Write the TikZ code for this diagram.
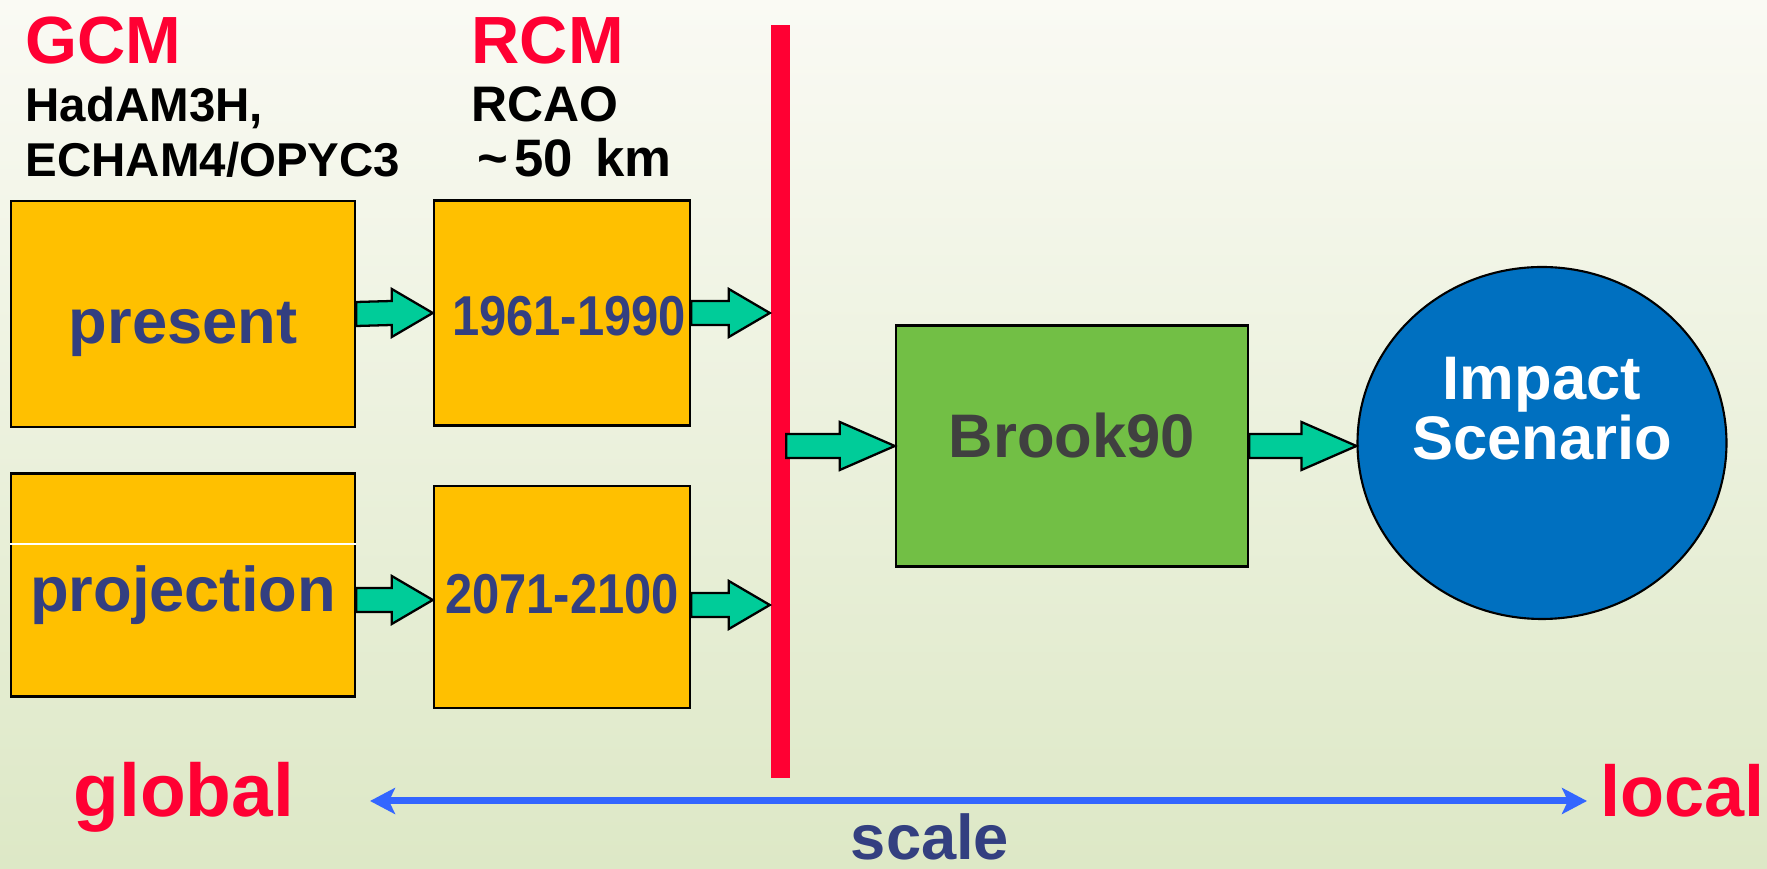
\documentclass[tikz,border=0pt]{standalone}
\usepackage{fontspec}
\setmainfont{Liberation Sans}
\newfontfamily\condensed{Liberation Sans}[FakeStretch=0.87]
\usetikzlibrary{shapes.geometric,arrows.meta,calc}

\definecolor{bgtop}{RGB}{250,250,244}
\definecolor{bgbot}{RGB}{221,232,198}
\definecolor{boxorange}{RGB}{255,192,0}
\definecolor{boxgreen}{RGB}{114,191,69}
\definecolor{impactblue}{RGB}{0,112,192}
\definecolor{arrowteal}{RGB}{0,204,153}
\definecolor{barred}{RGB}{255,0,51}
\definecolor{textnavy}{RGB}{51,63,128}
\definecolor{scaleblue}{RGB}{51,102,255}

\tikzset{
  heading/.style={anchor=base west, inner sep=0pt, text=barred, font=\fontsize{19}{19}\selectfont\bfseries},
  subheading/.style={anchor=base west, inner sep=0pt, font=\fontsize{13.5}{13.5}\selectfont\bfseries},
  modelbox/.style={draw=black, line width=0.7pt, fill=boxorange, inner sep=0pt, text=textnavy,
    font=\fontsize{18}{18}\selectfont\bfseries},
  periodbox/.style={modelbox, text depth=0pt, font=\condensed\fontsize{16}{16}\selectfont\bfseries},
  fatarrow/.style={draw=black, line width=0.65pt, fill=arrowteal, line join=miter,
    to path={([yshift=1.2mm]\tikztostart) -- ([xshift=-#1,yshift=1.2mm]\tikztotarget)
      -- ([xshift=-#1,yshift=2.4mm]\tikztotarget) -- (\tikztotarget)
      -- ([xshift=-#1,yshift=-2.4mm]\tikztotarget) -- ([xshift=-#1,yshift=-1.2mm]\tikztotarget)
      -- ([yshift=-1.2mm]\tikztostart) -- cycle}},
  fatarrow/.default=4.1mm,
  endlabel/.style={anchor=base west, inner sep=0pt, text=barred, font=\fontsize{20.5}{20.5}\selectfont\bfseries}
}

\begin{document}
\begin{tikzpicture}[x=0.1mm, y=-0.1mm]
  \shade[top color=bgtop, bottom color=bgbot] (0,0) rectangle (1767,869);
  \useasboundingbox (0,0) rectangle (1767,869);

  % model names
  \node[heading] (gcm) at (25,64) {GCM};
  \node[subheading] (gcm1) at (25,122) {HadAM3H,};
  \node[subheading] (gcm2) at (25,177) {ECHAM4/OPYC3};
  \node[heading] (rcm) at (471,64) {RCM};
  \node[subheading, font=\fontsize{14.2}{14.2}\selectfont\bfseries] (rcm1) at (471,122) {RCAO};
  \node[subheading, font=\fontsize{15}{15}\selectfont\bfseries] (rcm2) at (477,177) {\textasciitilde\hspace{0.6mm}50\hspace{2.2mm}km};

  % boxes
  \node[modelbox, minimum width=34.4mm, minimum height=22.6mm, text height=7.3mm] (present) at (183,314) {present};
  \node[modelbox, minimum width=34.4mm, minimum height=22.3mm, text height=6.7mm] (proj) at (183,585) {projection};
  \draw[white, line width=0.3pt] ([yshift=4.1mm]proj.west) -- ([yshift=4.1mm]proj.east);
  \node[periodbox, minimum width=25.6mm, minimum height=22.5mm, text height=4.6mm] (r1961) at (562,313) {\hspace*{1.4mm}1961-1990};
  \node[periodbox, minimum width=25.6mm, minimum height=22.2mm, text height=3.4mm] (r2071) at (562,597) {2071-2100};
  \node[fill=barred, inner sep=0pt, minimum width=1.9mm, minimum height=75.3mm] (bar) at (780,401.5) {};
  \node[modelbox, fill=boxgreen, text=black!75, minimum width=35.2mm, minimum height=24.1mm,
    text height=2.4mm, text depth=0pt, font=\fontsize{17.5}{17.5}\selectfont\bfseries] (brook) at (1072,446) {Brook90};
  \node[ellipse, draw=black, line width=0.6pt, fill=impactblue, text=white, inner sep=0pt,
    minimum width=36.9mm, minimum height=35.2mm, align=center, text depth=7mm,
    font=\fontsize{17.5}{17.1}\selectfont\bfseries] (impact) at (1542,443) {Impact\\Scenario};

  % flow
  \coordinate (in1) at (r1961.east -| bar.west);
  \coordinate (p2) at ($(proj.east)+(0,15)$);
  \coordinate (q2) at ($(r2071.west)+(0,3)$);
  \coordinate (o2) at ($(r2071.east)+(0,8)$);
  \coordinate (in2) at (o2 -| bar.west);
  \coordinate (out) at ($(bar.east |- brook.west)+(-4,0)$);
  \coordinate (in3) at (brook.east -| impact.west);
  \draw[fatarrow] (present.east) to (r1961.west);
  \draw[fatarrow] (r1961.east) to (in1);
  \draw[fatarrow] (p2) to (q2);
  \draw[fatarrow] (o2) to (in2);
  \draw[fatarrow=5.5mm] (out) to (brook.west);
  \draw[fatarrow=5.5mm] (brook.east) to (in3);

  % scale axis
  \node[endlabel, font=\fontsize{21.3}{21.3}\selectfont\bfseries] (global) at (73,817) {global};
  \node[endlabel] (local) at (1600,817) {local};
  \coordinate (sl) at (370,801);
  \coordinate (sr) at (1587,801);
  \draw[scaleblue, line width=0.7mm, {Stealth[length=2.5mm,width=2.6mm,inset=0.6mm]}-{Stealth[length=2.5mm,width=2.6mm,inset=0.6mm]}] (sl) -- (sr);
  \node[anchor=base, inner sep=0pt, text=textnavy, font=\fontsize{18}{18}\selectfont\bfseries] (scale) at (930,860) {scale};
\end{tikzpicture}
\end{document}
